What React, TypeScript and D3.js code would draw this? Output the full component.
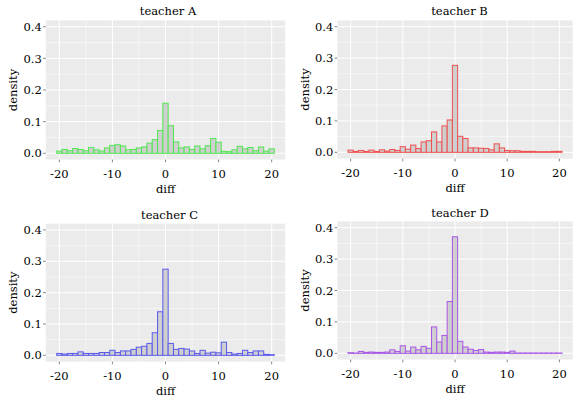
import React from "react";
import * as d3 from "d3";

// bin centres (binwidth 1)
const diffs = [-20, -19, -18, -17, -16, -15, -14, -13, -12, -11, -10, -9, -8, -7, -6, -5, -4, -3, -2, -1, 0,
  1, 2, 3, 4, 5, 6, 7, 8, 9, 10, 11, 12, 13, 14, 15, 16, 17, 18, 19, 20];

const teacherA = [0.007, 0.012, 0.008, 0.015, 0.012, 0.008, 0.018, 0.011, 0.007, 0.017, 0.025, 0.027, 0.023, 0.011, 0.012, 0.017, 0.02, 0.032, 0.043, 0.072, 0.158,
  0.087, 0.036, 0.017, 0.02, 0.012, 0.023, 0.014, 0.024, 0.047, 0.035, 0.006, 0.005, 0.011, 0.022, 0.014, 0.018, 0.008, 0.02, 0.007, 0.014];
const teacherB = [0.007, 0.003, 0.006, 0.003, 0.007, 0.003, 0.008, 0.004, 0.009, 0.006, 0.018, 0.01, 0.023, 0.012, 0.033, 0.037, 0.065, 0.033, 0.084, 0.103, 0.277,
  0.051, 0.044, 0.014, 0.014, 0.013, 0.012, 0.008, 0.027, 0.014, 0.006, 0.005, 0.005, 0.003, 0.003, 0.003, 0.002, 0.002, 0.002, 0.003, 0.003];
const teacherC = [0.006, 0.004, 0.006, 0.006, 0.011, 0.006, 0.006, 0.006, 0.009, 0.009, 0.016, 0.009, 0.014, 0.014, 0.019, 0.026, 0.029, 0.038, 0.072, 0.139, 0.275,
  0.038, 0.019, 0.022, 0.02, 0.014, 0.006, 0.016, 0.007, 0.01, 0.008, 0.042, 0.009, 0.004, 0.006, 0.016, 0.009, 0.014, 0.014, 0.003, 0.002];
const teacherD = [0.002, 0.001, 0.006, 0.003, 0.004, 0.003, 0.003, 0.004, 0.011, 0.006, 0.024, 0.007, 0.02, 0.011, 0.022, 0.016, 0.084, 0.036, 0.057, 0.165, 0.371,
  0.038, 0.02, 0.013, 0.009, 0.012, 0.004, 0.003, 0.004, 0.004, 0.003, 0.007, 0.001, 0.001, 0.001, 0.001, 0.001, 0.001, 0.001, 0.001, 0.001];

const titles = ["teacher A", "teacher B", "teacher C", "teacher D"];
const series = [teacherA, teacherB, teacherC, teacherD];
const strokes = ["#4fe84f", "#ef5050", "#5a5aee", "#a855e8"];

const xTicks = [-20, -10, 0, 10, 20];
const xMinor = [-15, -5, 5, 15];
const yTicks = [0, 0.1, 0.2, 0.3, 0.4];
const yMinor = [0.05, 0.15, 0.25, 0.35];

// panel boxes
const layouts = [
  { left: 45.8, right: 285.2, top: 20.4, bottom: 159.6, titleX: 168, titleY: 15, ylabX: 13 },
  { left: 337.3, right: 572.7, top: 20.4, bottom: 158.6, titleX: 459.5, titleY: 15, ylabX: 305 },
  { left: 45.8, right: 285.2, top: 223.7, bottom: 361.6, titleX: 169.5, titleY: 219, ylabX: 13 },
  { left: 337.3, right: 572.7, top: 221.4, bottom: 359.6, titleX: 460, titleY: 216.5, ylabX: 305 },
];

const font = "'DejaVu Serif', serif";
const fs = 11.5;

function Panel({ idx }: { idx: number }) {
  const L = layouts[idx];
  const values = series[idx];
  const x = d3.scaleLinear().domain([-22.55, 22.55]).range([L.left, L.right]);
  const y = d3.scaleLinear().domain([-0.02, 0.42]).range([L.bottom, L.top]);
  const fmt = d3.format(".1f");
  return (
    <g>
      <rect x={L.left} y={L.top} width={L.right - L.left} height={L.bottom - L.top} fill="#ebebeb" />
      {yMinor.map((t) => (
        <line key={"ym" + t} x1={L.left} x2={L.right} y1={y(t)} y2={y(t)} stroke="#fff" strokeWidth={0.5} />
      ))}
      {xMinor.map((t) => (
        <line key={"xm" + t} x1={x(t)} x2={x(t)} y1={L.top} y2={L.bottom} stroke="#fff" strokeWidth={0.5} />
      ))}
      {yTicks.map((t) => (
        <line key={"y" + t} x1={L.left} x2={L.right} y1={y(t)} y2={y(t)} stroke="#fff" strokeWidth={1} />
      ))}
      {xTicks.map((t) => (
        <line key={"x" + t} x1={x(t)} x2={x(t)} y1={L.top} y2={L.bottom} stroke="#fff" strokeWidth={1} />
      ))}
      {diffs.map((d, i) => (
        <rect
          key={d}
          x={x(d - 0.5)}
          width={x(d + 0.5) - x(d - 0.5)}
          y={y(values[i])}
          height={y(0) - y(values[i])}
          fill="#cfcfcf"
          stroke={strokes[idx]}
          strokeWidth={1}
        />
      ))}
      {yTicks.map((t) => (
        <g key={"yt" + t}>
          <line x1={L.left - 2.7} x2={L.left} y1={y(t)} y2={y(t)} stroke="#333" strokeWidth={0.6} />
          <text x={L.left - 4} y={y(t)} dy="0.36em" textAnchor="end" fontSize={fs}>{fmt(t)}</text>
        </g>
      ))}
      {xTicks.map((t) => (
        <g key={"xt" + t}>
          <line x1={x(t)} x2={x(t)} y1={L.bottom} y2={L.bottom + 2.7} stroke="#333" strokeWidth={0.6} />
          <text x={x(t)} y={L.bottom + 18.5} textAnchor="middle" fontSize={fs}>{t}</text>
        </g>
      ))}
      <text x={(L.left + L.right) / 2} y={L.bottom + 33} textAnchor="middle" fontSize={fs}>diff</text>
      <text
        transform={`translate(${L.ylabX},${(L.top + L.bottom) / 2}) rotate(-90)`}
        dy="0.36em"
        textAnchor="middle"
        fontSize={fs}
      >density</text>
      <text x={L.titleX} y={L.titleY} textAnchor="middle" fontSize={fs}>{titles[idx]}</text>
    </g>
  );
}

export default function App() {
  return (
    <svg
      width={573}
      height={401}
      style={{ position: "absolute", left: 0, top: 0, fontFamily: font, background: "#fff" }}
    >
      {series.map((_, i) => (
        <Panel key={i} idx={i} />
      ))}
    </svg>
  );
}
